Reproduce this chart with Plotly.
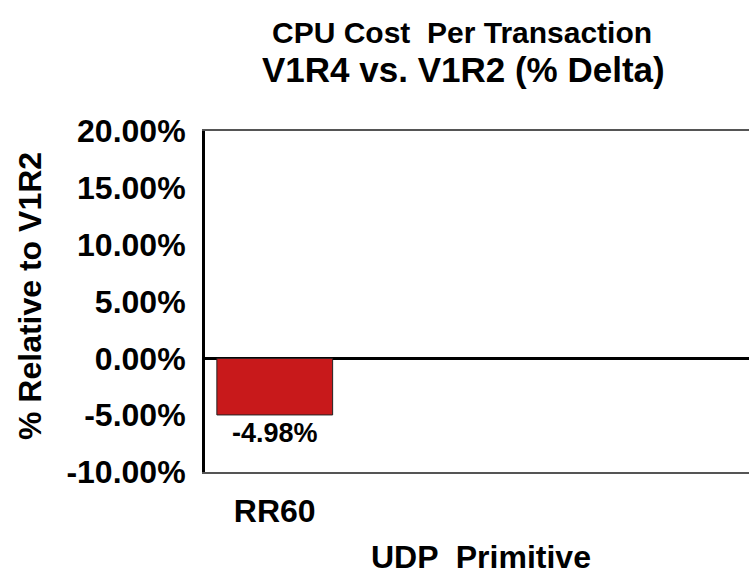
import plotly.graph_objects as go

categories = ["RR60"]
values = [-4.98]
labels = ["<b>-4.98%</b>"]
y_ticks = [-10, -5, 0, 5, 10, 15, 20]
y_tick_labels = ["-10.00%", "-5.00%", "0.00%", "5.00%", "10.00%", "15.00%", "20.00%"]

FONT = "Liberation Sans, Arial, sans-serif"
L, R, T, B = 205, 0, 131, 104
W, H = 749, 576
H_plot = H - T - B
W_plot = W - L - R


def px(x, y):
    return (x - L) / W_plot, (H - B - y) / H_plot


fig = go.Figure()
fig.add_trace(go.Bar(
    x=categories, y=values, text=labels, textposition="outside",
    textfont=dict(family=FONT, size=27, color="black"),
    marker=dict(color="#c8191b", line=dict(color="#222222", width=1)),
    width=0.83, cliponaxis=False,
))

fig.update_layout(
    width=W, height=H,
    margin=dict(l=L, r=R, t=T, b=B, autoexpand=False),
    paper_bgcolor="white", plot_bgcolor="white",
    showlegend=False,
    font=dict(family=FONT, color="black"),
    xaxis=dict(
        range=[-0.5, 3.4], showgrid=False, zeroline=False, automargin=False,
        showline=True, linecolor="#555555", linewidth=2, mirror=True,
        ticks="", tickfont=dict(family=FONT, size=32, color="black"),
        ticklabelstandoff=10,
        tickprefix="<b>", ticksuffix="</b>",
    ),
    yaxis=dict(
        range=[-10, 20], tickvals=y_ticks, ticktext=[f"<b>{t}</b>" for t in y_tick_labels],
        showgrid=False, zeroline=True, zerolinecolor="black", zerolinewidth=3,
        showline=True, linecolor="black", linewidth=3, mirror=False, automargin=False,
        ticks="", tickfont=dict(family=FONT, size=32, color="black"),
        ticklabelstandoff=10,
    ),
)


def note(text, x, y, size, angle=0):
    ax, ay = px(x, y)
    fig.add_annotation(text=text, x=ax, y=ay, xref="paper", yref="paper",
                       xanchor="center", yanchor="middle", textangle=angle,
                       showarrow=False, font=dict(family=FONT, size=size, color="black"))


note("<b>CPU Cost  Per Transaction</b>", 462, 32, 30)
note("<b>V1R4 vs. V1R2 (% Delta)</b>", 463, 70, 35)
note("<b>UDP  Primitive</b>", 481, 557, 32)
note("<b>% Relative to V1R2</b>", 30, 296, 32, angle=-90)

fig.write_html("out.html", config={"displayModeBar": False},
               post_script="document.body.style.margin='0';document.body.style.overflow='hidden';")
